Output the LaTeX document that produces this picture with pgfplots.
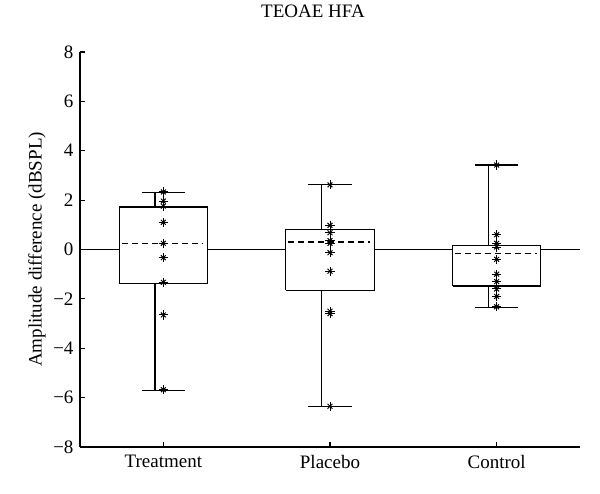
\documentclass[border=0pt]{standalone}
\usepackage{fontspec}
\setmainfont{Liberation Serif}
\usepackage{pgfplots}
\usepackage{pgfplotstable}
\pgfplotsset{compat=1.18}
\pgfplotstableread{
x y
1 2.33
1 1.96
1 1.76
1 1.10
1 0.25
1 -0.33
1 -1.33
1 -2.65
1 -5.68
2 2.62
2 0.98
2 0.68
2 0.36
2 0.25
2 -0.13
2 -0.88
2 -2.5
2 -2.6
2 -6.35
3 3.42
3 0.6
3 0.25
3 0.1
3 -0.4
3 -1.0
3 -1.3
3 -1.6
3 -1.9
3 -2.32
}\points
\begin{document}
\fontsize{19bp}{23bp}\selectfont
\begin{tikzpicture}
\useasboundingbox (-80bp,-47bp) rectangle (520bp,447bp);
\begin{axis}[
  at={(0,0)}, anchor=south west,
  scale only axis, width=500bp, height=395bp,
  xmin=0.5, xmax=3.5, ymin=-8, ymax=8,
  axis x line=bottom, axis y line=left,
  axis line style={-, line width=1.2bp, black},
  xtick={1,2,3}, xticklabels={Treatment,Placebo,Control},
  ytick={-8,-6,-4,-2,0,2,4,6,8},
  yticklabels={−8,−6,−4,−2,0,2,4,6,8},
  tick align=inside, major tick length=5bp,
  tick style={line width=1.2bp, black},
  every tick label/.append style={font=\fontsize{19bp}{23bp}\selectfont},
  xticklabel style={yshift=-2bp},
  title={TEOAE HFA},
  title style={at={(axis description cs:0.466,1)}, anchor=center, yshift=35bp, font=\fontsize{19bp}{23bp}\selectfont},
  ylabel={Amplitude difference (dBSPL)},
  ylabel style={at={(axis description cs:-0.086,0.5)}, anchor=center, font=\fontsize{19bp}{23bp}\selectfont},
  clip=false,
]
% zero line
\addplot[black, line width=1.2bp] coordinates {(0.5,0) (3.5,0)};

% ---------- Treatment (x=1)
\addplot[black, line width=1.2bp] coordinates {(0.95,-5.7) (0.95,2.3)};
\addplot[black, line width=1.2bp] coordinates {(0.87,-5.7) (1.13,-5.7)};
\addplot[black, line width=1.2bp] coordinates {(0.87,2.3) (1.13,2.3)};
\addplot[black, line width=1.2bp, fill=white] coordinates {(0.735,-1.37) (1.265,-1.37) (1.265,1.72) (0.735,1.72) (0.735,-1.37)};
\addplot[black, line width=1.2bp, dash pattern=on 6bp off 4bp] coordinates {(0.75,0.25) (1.24,0.25)};

% ---------- Placebo (x=2)
\addplot[black, line width=1.2bp] coordinates {(1.95,-6.35) (1.95,2.62)};
\addplot[black, line width=1.2bp] coordinates {(1.87,-6.35) (2.13,-6.35)};
\addplot[black, line width=1.2bp] coordinates {(1.87,2.62) (2.13,2.62)};
\addplot[black, line width=1.2bp, fill=white] coordinates {(1.735,-1.66) (2.265,-1.66) (2.265,0.82) (1.735,0.82) (1.735,-1.66)};
\addplot[black, line width=1.2bp, dash pattern=on 6bp off 4bp] coordinates {(1.75,0.3) (2.24,0.3)};

% ---------- Control (x=3)
\addplot[black, line width=1.2bp] coordinates {(2.95,-2.35) (2.95,3.42)};
\addplot[black, line width=1.2bp] coordinates {(2.87,-2.35) (3.13,-2.35)};
\addplot[black, line width=1.2bp] coordinates {(2.87,3.42) (3.13,3.42)};
\addplot[black, line width=1.2bp, fill=white] coordinates {(2.735,-1.48) (3.265,-1.48) (3.265,0.15) (2.735,0.15) (2.735,-1.48)};
\addplot[black, line width=1.2bp, dash pattern=on 6bp off 4bp] coordinates {(2.75,-0.15) (3.24,-0.15)};

% ---------- individual points (8-armed asterisks)
\addplot[only marks, black, mark=+, mark size=4.6bp, mark options={line width=1bp}] table[x=x,y=y] {\points};
\addplot[only marks, black, mark=x, mark size=3.4bp, mark options={line width=1bp}] table[x=x,y=y] {\points};
\end{axis}
\end{tikzpicture}
\end{document}
